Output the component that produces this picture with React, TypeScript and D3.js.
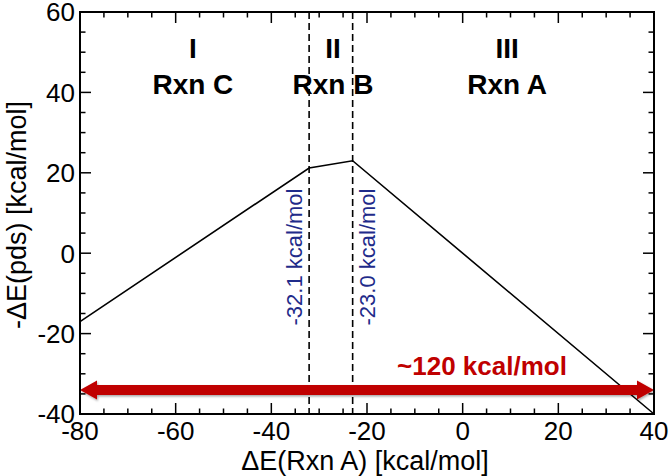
import React from "react";
import * as d3 from "d3";

// chart values
const curveX = [-80, -32.1, -23.0, 40];
const curveY = [-17, 21.2, 23, -40];
const boundaries = [-32.1, -23.0];
const boundaryLabels = ["-32.1 kcal/mol", "-23.0 kcal/mol"];
const regionX = [-56.4, -27.1, 9.3];
const regionNums = ["I", "II", "III"];
const regionRxn = ["Rxn C", "Rxn B", "Rxn A"];
const spanValue = -34;
const spanLabel = "~120 kcal/mol";
const xTicks = [-80, -60, -40, -20, 0, 20, 40];
const yTicks = [-40, -20, 0, 20, 40, 60];

const W = 672;
const H = 476;
const m = { left: 80, right: 18, top: 12, bottom: 62 };
const font = "Liberation Sans, Arial, sans-serif";
const red = "#c00000";
const blue = "#1f2b8a";

export default function App() {
  const x = d3.scaleLinear().domain([-80, 40]).range([m.left, W - m.right]);
  const y = d3.scaleLinear().domain([-40, 60]).range([H - m.bottom, m.top]);
  const [x0, x1] = x.range();
  const [y0, y1] = y.range();

  const line = d3
    .line<number>()
    .x((d, i) => x(curveX[i]))
    .y((d) => y(d));

  const xMinor = d3.range(-80, 41, 5).filter((v) => v % 20 !== 0);
  const yMinor = d3.range(-40, 61, 5).filter((v) => v % 20 !== 0);

  const ay = y(spanValue);
  const headL = 17;
  const headH = 9.5;
  const shaft = 5;
  const arrow = [
    [x0, ay],
    [x0 + headL, ay - headH],
    [x0 + headL, ay - shaft],
    [x1 - headL, ay - shaft],
    [x1 - headL, ay - headH],
    [x1, ay],
    [x1 - headL, ay + headH],
    [x1 - headL, ay + shaft],
    [x0 + headL, ay + shaft],
    [x0 + headL, ay + headH],
  ];

  return (
    <svg
      width={W}
      height={H}
      style={{ position: "absolute", left: 0, top: 0, background: "#fff" }}
      fontFamily={font}
    >
      <defs>
        <filter id="shadow" x="-5%" y="-50%" width="110%" height="200%">
          <feDropShadow dx="1" dy="1.5" stdDeviation="1.2" floodColor="#000" floodOpacity="0.35" />
        </filter>
      </defs>

      {/* dashed region boundaries */}
      {boundaries.map((b) => (
        <line
          key={b}
          x1={x(b)}
          x2={x(b)}
          y1={y1}
          y2={y0}
          stroke="#000"
          strokeWidth={1.6}
          strokeDasharray="7,4"
        />
      ))}

      {/* curve */}
      <path d={line(curveY) || ""} fill="none" stroke="#000" strokeWidth={1.6} />

      {/* range arrow */}
      <polygon
        points={arrow.map((p) => p.join(",")).join(" ")}
        fill={red}
        filter="url(#shadow)"
      />
      <text
        x={482}
        y={ay - 15}
        textAnchor="middle"
        fontSize={26}
        fontWeight="bold"
        fill={red}
      >
        {spanLabel}
      </text>

      {/* boundary labels */}
      <text
        transform={`translate(${x(boundaries[0]) - 7},257) rotate(-90)`}
        textAnchor="middle"
        fontSize={22}
        fill={blue}
      >
        {boundaryLabels[0]}
      </text>
      <text
        transform={`translate(${x(boundaries[1]) + 22},257) rotate(-90)`}
        textAnchor="middle"
        fontSize={22}
        fill={blue}
      >
        {boundaryLabels[1]}
      </text>

      {/* region labels */}
      {regionX.map((r, i) => (
        <g key={i} fontWeight="bold" fontSize={28} textAnchor="middle" fill="#000">
          <text x={x(r)} y={58}>
            {regionNums[i]}
          </text>
          <text x={x(r)} y={94}>
            {regionRxn[i]}
          </text>
        </g>
      ))}

      {/* frame */}
      <rect
        x={x0}
        y={y1}
        width={x1 - x0}
        height={y0 - y1}
        fill="none"
        stroke="#000"
        strokeWidth={2}
      />

      {/* x ticks */}
      {xTicks.map((t) => (
        <g key={t}>
          <line x1={x(t)} x2={x(t)} y1={y0} y2={y0 - 11} stroke="#000" strokeWidth={1.5} />
          <line x1={x(t)} x2={x(t)} y1={y1} y2={y1 + 11} stroke="#000" strokeWidth={1.5} />
          <text x={x(t)} y={y0 + 26} textAnchor="middle" fontSize={26} fill="#000">
            {t}
          </text>
        </g>
      ))}
      {xMinor.map((t) => (
        <g key={t}>
          <line x1={x(t)} x2={x(t)} y1={y0} y2={y0 - 5.5} stroke="#000" strokeWidth={1.5} />
          <line x1={x(t)} x2={x(t)} y1={y1} y2={y1 + 5.5} stroke="#000" strokeWidth={1.5} />
        </g>
      ))}

      {/* y ticks */}
      {yTicks.map((t) => (
        <g key={t}>
          <line x1={x0} x2={x0 + 11} y1={y(t)} y2={y(t)} stroke="#000" strokeWidth={1.5} />
          <line x1={x1} x2={x1 - 11} y1={y(t)} y2={y(t)} stroke="#000" strokeWidth={1.5} />
          <text x={x0 - 5} y={y(t) + 9.3} textAnchor="end" fontSize={26} fill="#000">
            {t}
          </text>
        </g>
      ))}
      {yMinor.map((t) => (
        <g key={t}>
          <line x1={x0} x2={x0 + 5.5} y1={y(t)} y2={y(t)} stroke="#000" strokeWidth={1.5} />
          <line x1={x1} x2={x1 - 5.5} y1={y(t)} y2={y(t)} stroke="#000" strokeWidth={1.5} />
        </g>
      ))}

      {/* axis titles */}
      <text x={365} y={470} textAnchor="middle" fontSize={27} fill="#000">
        ΔE(Rxn A) [kcal/mol]
      </text>
      <text
        transform={`translate(26,215) rotate(-90)`}
        textAnchor="middle"
        fontSize={27}
        fill="#000"
      >
        -ΔE(pds) [kcal/mol]
      </text>
    </svg>
  );
}
